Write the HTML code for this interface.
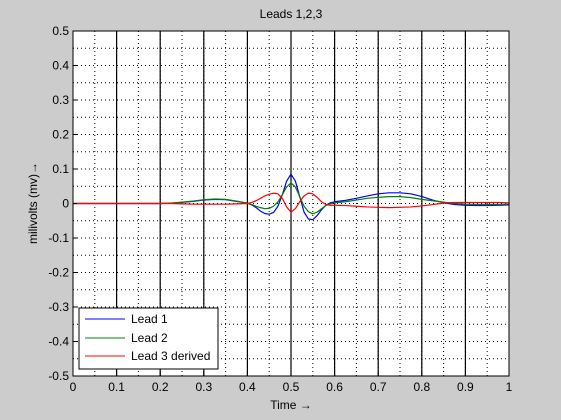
<!DOCTYPE html>
<html><head><meta charset="utf-8"><style>
body{margin:0;background:#cccccc;}
svg{display:block;font-family:"Liberation Sans",sans-serif;}
</style></head><body>
<svg id="chart" width="561" height="420">
<rect x="0" y="0" width="561" height="420" fill="#cccccc"/>
<rect x="73" y="31" width="436" height="345" fill="#fff"/>
<g id="grid"></g><g id="series"></g><g id="axes"></g>
<text x="291" y="18" font-size="12" text-anchor="middle">Leads 1,2,3</text>
<text x="291" y="409" font-size="12" text-anchor="middle">Time →</text>
<text transform="translate(37,203) rotate(-90)" font-size="12" text-anchor="middle">milivolts (mv)→</text>
<g>
<rect x="79" y="308" width="139" height="61" fill="#fff" stroke="#000"/>
<line x1="85" y1="319" x2="125" y2="319" stroke="#0000ff"/>
<text x="131" y="323" font-size="12">Lead 1</text>
<line x1="85" y1="338" x2="125" y2="338" stroke="#008000"/>
<text x="131" y="342" font-size="12">Lead 2</text>
<line x1="85" y1="356" x2="125" y2="356" stroke="#ff0000"/>
<text x="131" y="360" font-size="12">Lead 3 derived</text>
</g>
</svg>
<script>
const times=[0,0.05,0.1,0.15,0.2,0.225,0.25,0.275,0.3,0.325,0.35,0.375,0.4,0.41,0.42,0.43,0.44,0.45,0.46,0.47,0.48,0.49,0.5,0.51,0.52,0.53,0.54,0.55,0.56,0.57,0.58,0.59,0.6,0.625,0.65,0.675,0.7,0.725,0.75,0.775,0.8,0.825,0.85,0.875,0.9,0.925,0.95,0.975,1];
const lead1=[0,0,0,0,0,0.001,0.003,0.006,0.01,0.012,0.011,0.006,0.001,-0.004,-0.012,-0.022,-0.029,-0.031,-0.026,-0.008,0.025,0.065,0.085,0.065,0.02,-0.025,-0.045,-0.047,-0.035,-0.018,-0.005,0.002,0.005,0.009,0.015,0.022,0.028,0.031,0.031,0.028,0.02,0.01,0.002,-0.003,-0.005,-0.006,-0.006,-0.005,-0.004];
const lead2=[0,0,0,0,0,0.001,0.004,0.007,0.011,0.013,0.012,0.007,0.001,-0.003,-0.008,-0.012,-0.015,-0.014,-0.008,0.005,0.025,0.048,0.06,0.048,0.02,-0.008,-0.024,-0.03,-0.025,-0.015,-0.006,-0.001,0.002,0.005,0.01,0.015,0.018,0.02,0.02,0.017,0.012,0.008,0.004,0,-0.002,-0.003,-0.003,-0.003,-0.002];
const lead3=[0,0,0,0,0,0,-0.001,-0.002,-0.002,-0.002,-0.002,-0.001,0,0.003,0.008,0.015,0.022,0.027,0.03,0.028,0.015,-0.01,-0.025,-0.015,0.005,0.022,0.03,0.028,0.018,0.005,-0.003,-0.005,-0.005,-0.006,-0.008,-0.01,-0.011,-0.012,-0.011,-0.01,-0.007,-0.003,0.001,0.003,0.003,0.003,0.003,0.003,0.002];
const xTicks=[0,0.1,0.2,0.3,0.4,0.5,0.6,0.7,0.8,0.9,1];
const xTickLabels=["0","0.1","0.2","0.3","0.4","0.5","0.6","0.7","0.8","0.9","1"];
const yTicks=[-0.5,-0.4,-0.3,-0.2,-0.1,0,0.1,0.2,0.3,0.4,0.5];
const yTickLabels=["-0.5","-0.4","-0.3","-0.2","-0.1","0","0.1","0.2","0.3","0.4","0.5"];
const X0=73,X1=509,Y0=376,Y1=31;
const sx=v=>X0+(v-0)*(X1-X0)/1;
const sy=v=>Y0-(v+0.5)*(Y0-Y1)/1;
const NS="http://www.w3.org/2000/svg";
function mk(tag,parent,attrs){const e=document.createElementNS(NS,tag);for(const k in attrs)e.setAttribute(k,attrs[k]);parent.appendChild(e);return e;}
const grid=document.getElementById('grid'),axes=document.getElementById('axes'),series=document.getElementById('series');
for(let i=1;i<20;i++){const v=i*0.05;
 let l=mk('line',grid,{x1:sx(v),x2:sx(v),y1:Y1,y2:Y0,stroke:'#000','stroke-dasharray':'1,3'});
 
 
 let h=mk('line',grid,{x1:X0,x2:X1,y1:sy(-0.5+v),y2:sy(-0.5+v),stroke:'#000','stroke-dasharray':'1,3'});
 
 
}
for(let i=1;i<xTicks.length-1;i++){
 let l=mk('line',grid,{x1:sx(xTicks[i]),x2:sx(xTicks[i]),y1:Y1,y2:Y0,stroke:'#000','stroke-width':1.2});
 
 
}
const cols=['#0000ff','#008000','#ff0000'],data=[lead1,lead2,lead3],names=['lead1-line','lead2-line','lead3-line'];
data.forEach((d,j)=>{const p=mk('polyline',series,{points:times.map((t,i)=>sx(t)+','+sy(d[i])).join(' '),fill:'none',stroke:cols[j],'stroke-width':1.2,'stroke-linejoin':'round'});
 
 
});
const fr=mk('rect',axes,{x:X0,y:Y1,width:X1-X0,height:Y0-Y1,fill:'none',stroke:'#000'});


xTicks.forEach((v,i)=>{
 mk('line',axes,{x1:sx(v),x2:sx(v),y1:Y0,y2:Y0-4,stroke:'#000'});
 const t=mk('text',axes,{x:sx(v),y:Y0+15,'font-size':12,'text-anchor':'middle'});t.textContent=xTickLabels[i];
 
 
});
yTicks.forEach((v,i)=>{
 mk('line',axes,{x1:X0,x2:X0+4,y1:sy(v),y2:sy(v),stroke:'#000'});
 const t=mk('text',axes,{x:X0-4,y:sy(v)+4,'font-size':12,'text-anchor':'end'});t.textContent=yTickLabels[i];
 
 
});
</script>
</body></html>
